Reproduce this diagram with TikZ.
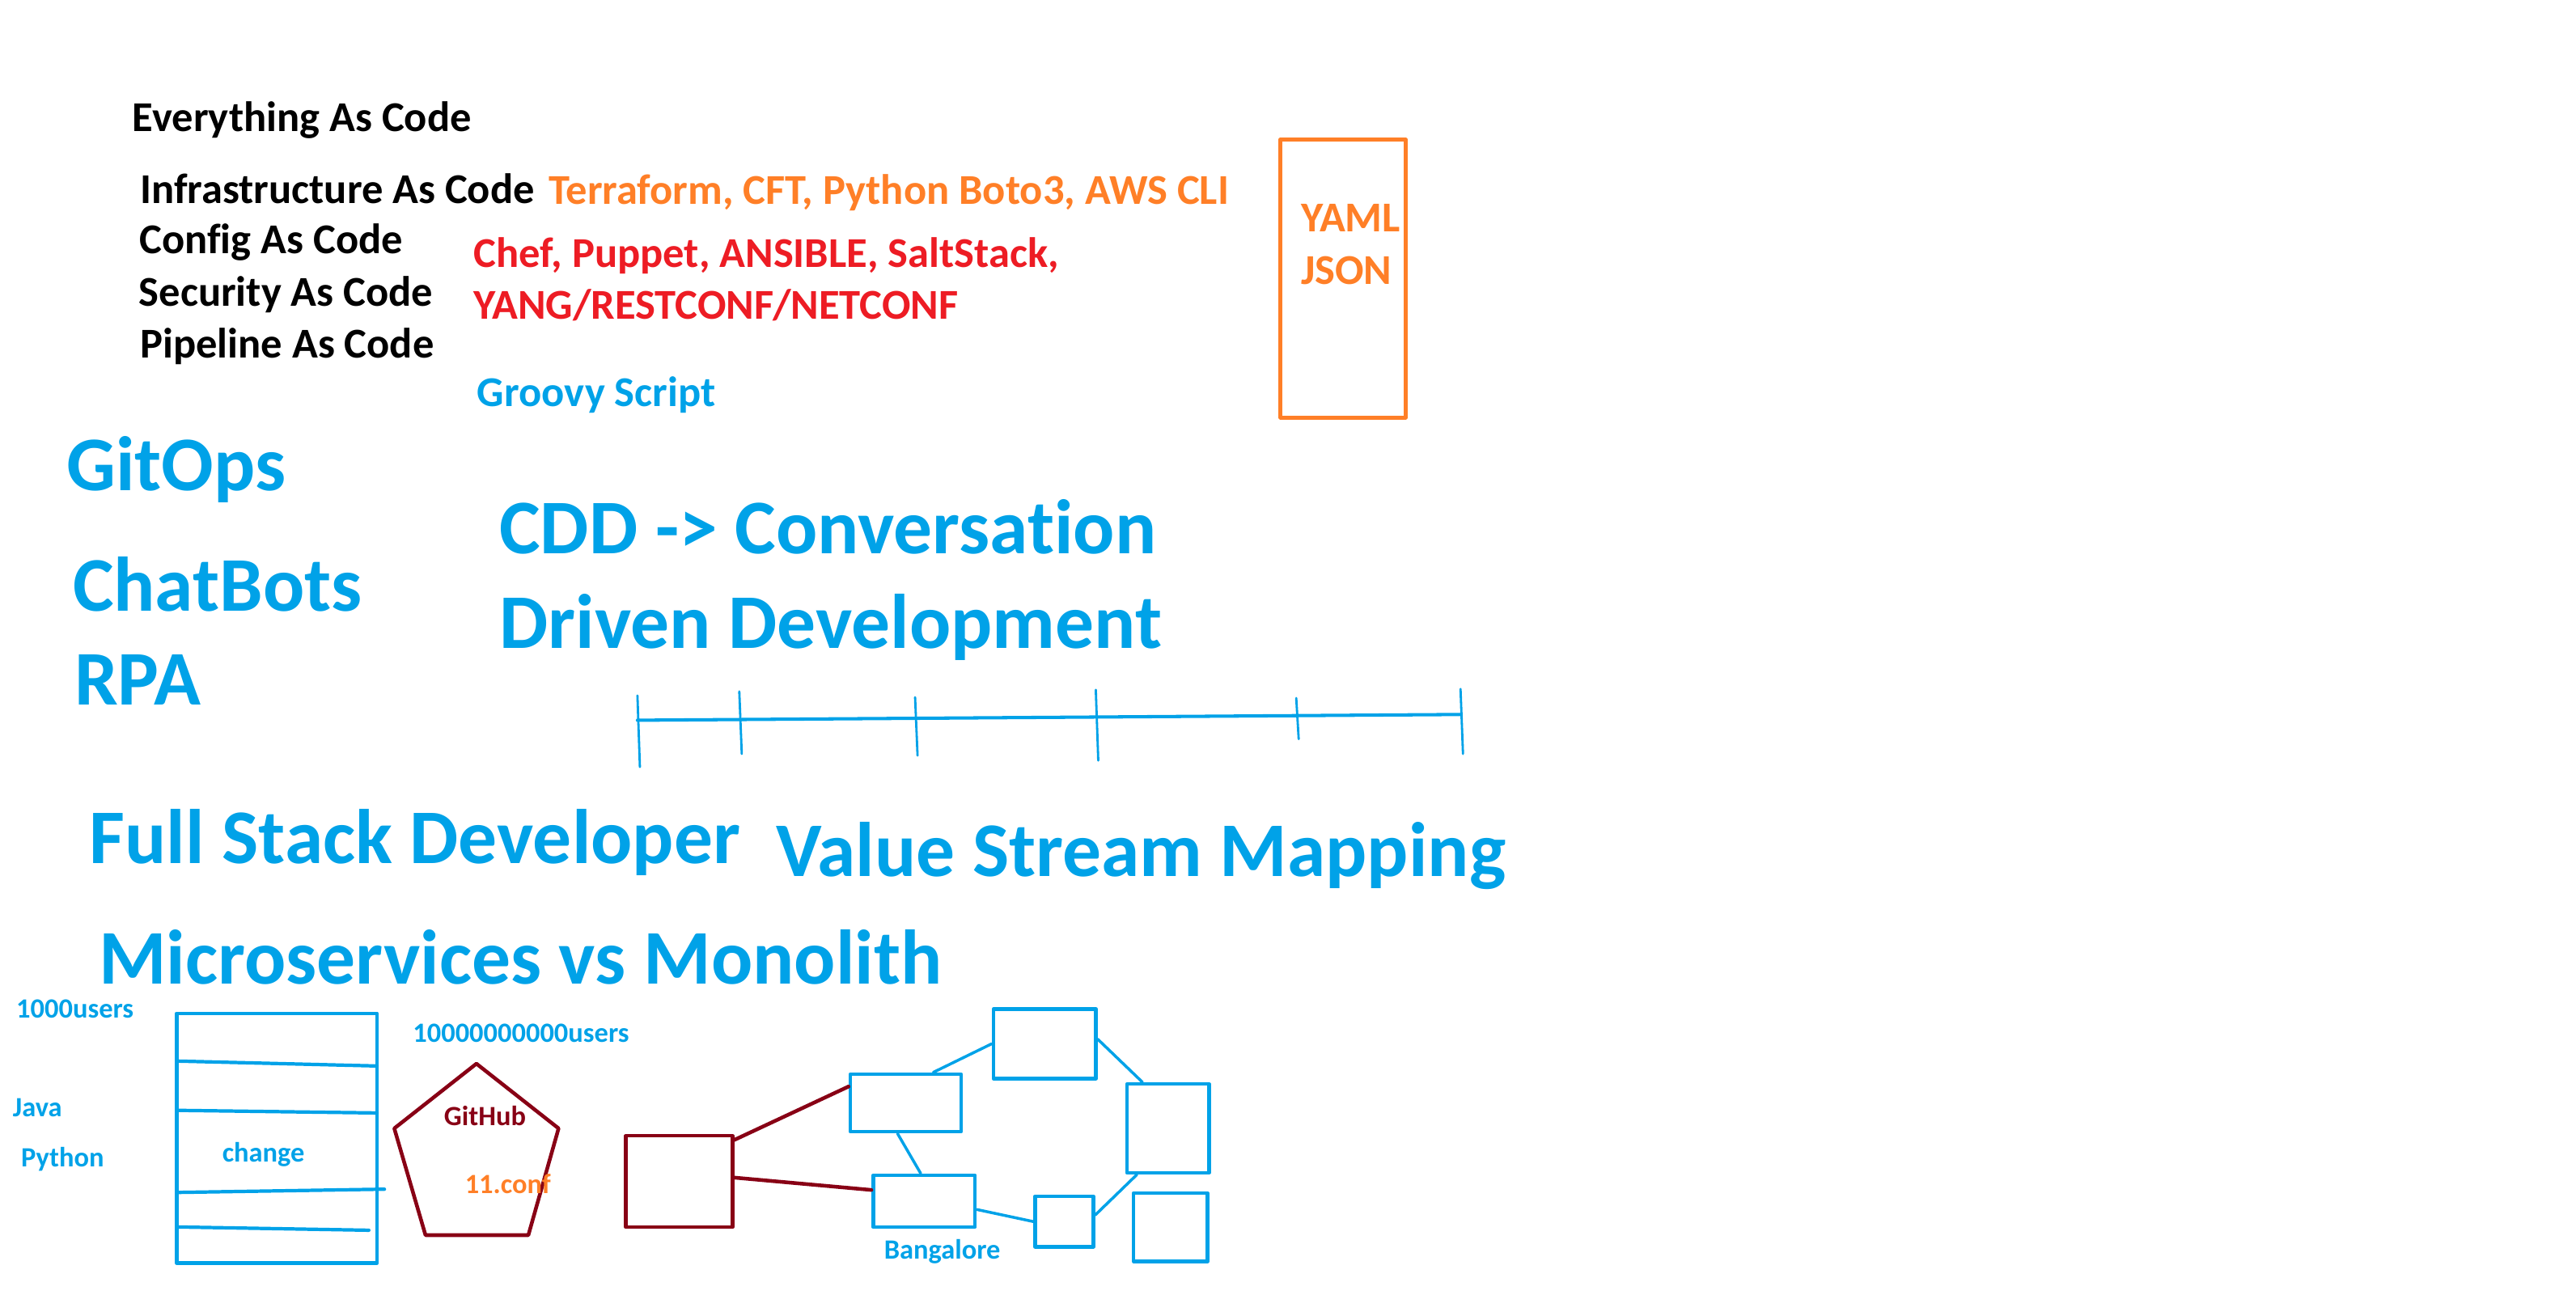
\documentclass[tikz,border=0pt]{standalone}
\usepackage{fontspec}
\setmainfont{Carlito}[Ligatures=NoCommon]
\definecolor{skyblue}{HTML}{00A2E8}
\definecolor{paintorange}{HTML}{FF7F27}
\definecolor{paintred}{HTML}{ED1C24}
\definecolor{darkred}{HTML}{880015}
\newlength\pxu
\setlength\pxu{0.020306cm}
\tikzset{
  lbl/.style={inner sep=0pt, anchor=base west, font=\bfseries\fontsize{14.95}{17}\selectfont},
  big/.style={lbl, text=skyblue, font=\bfseries\fontsize{27.2}{32}\selectfont},
  tiny/.style={lbl, text=skyblue, font=\bfseries\fontsize{9.8}{12}\selectfont},
  svc/.style={draw=skyblue, line width=1.3pt, inner sep=0pt},
  link/.style={skyblue, line width=1pt},
}
\begin{document}
\begin{tikzpicture}[x=\pxu, y=-\pxu, line cap=round, line join=round]
  \useasboundingbox (0,0) rectangle (1568,788);

  \node[lbl] (everything) at (80.4,79.9) {Everything As Code};
  \node[lbl] (infra)    at (85,124)   {Infrastructure As Code};
  \node[lbl] (config)   at (84.5,154.6) {Config As Code};
  \node[lbl] (security) at (84.3,186.3) {Security As Code};
  \node[lbl] (pipeline) at (85,218)   {Pipeline As Code};
  \node[lbl, text=paintorange] (iactools) at (333.6,124.3) {Terraform, CFT, Python Boto3, AWS CLI};
  \node[lbl, text=paintred] (cfgtools) at (288.1,162.9) {Chef, Puppet, ANSIBLE, SaltStack,};
  \node[lbl, text=paintred] (nettools) at (288,194.5) {YANG/RESTCONF/NETCONF};
  \node[lbl, text=skyblue] (groovy) at (290.2,247.6) {Groovy Script};

  \node[draw=paintorange, line width=1.4pt, inner sep=0pt, minimum width=76.2\pxu, minimum height=169.1\pxu] (fmtbox) at (817.5,169.6) {};
  \node[lbl, text=paintorange] (yaml) at (791.6,141.2) {YAML};
  \node[lbl, text=paintorange] (json) at (791.6,173.2) {JSON};

  \node[big] (gitops)   at (40.2,298.8) {GitOps};
  \node[big] (chatbots) at (44,372.3)   {ChatBots};
  \node[big] (rpa)      at (45,429.3)   {RPA};
  \node[big] (cdd)      at (303.7,337)  {CDD -> Conversation};
  \node[big] (driven)   at (303.7,394.5) {Driven Development};

  \draw[skyblue, line width=1.15pt] (388,438.5) -- (889,435);
  \foreach \tx/\ta/\tb in {388/423.5/467, 450/421/459, 557/424.5/460, 667/420/463, 789/425/450, 889/419.5/459}
    \draw[skyblue, line width=.8pt] (\tx,\ta) -- (\tx+1.5,\tb);

  \node[big] (fullstack) at (54.2,525.6) {Full Stack Developer};
  \node[big] (vsm)       at (472,533.8)  {Value Stream Mapping};
  \node[big] (micro)     at (59.9,599.2) {Microservices vs Monolith};

  \node[tiny] (fewusers)  at (9.6,619.7)  {1000users};
  \node[tiny] (manyusers) at (251,634.5)  {10000000000users};
  \node[tiny] (java)      at (7.5,679.6)  {Java};
  \node[tiny] (python)    at (12.5,710.5) {Python};

  \node[svc, minimum width=122\pxu, minimum height=152\pxu] (mono) at (168.5,693) {};
  \draw[link, line width=1.2pt] (107.5,646) -- (229.5,649);
  \draw[link, line width=1.2pt] (107.5,676) -- (229.5,677.6);
  \draw[link, line width=1.2pt] (107.5,726) -- (234,724);
  \draw[link, line width=1.2pt] (107.5,747) -- (224.5,749);
  \node[tiny] (change) at (135,707.5) {change};

  \coordinate (P1) at (290,647.6);
  \coordinate (P2) at (340,687);
  \coordinate (P3) at (321.6,752);
  \coordinate (P4) at (259,752);
  \coordinate (P5) at (240,687);
  \draw[darkred, line width=1.3pt] (P1)--(P2)--(P3)--(P4)--(P5)--cycle;
  \node[tiny, text=darkred] (github) at (270,685.4) {GitHub};
  \node[tiny, text=paintorange] (conf) at (282.7,726.4) {11.conf};

  \node[svc, draw=darkred, minimum width=64.8\pxu, minimum height=55.6\pxu] (hub) at (413.4,719.3) {};
  \node[svc, minimum width=67.4\pxu, minimum height=35\pxu]   (msa) at (551.3,671.5) {};
  \node[svc, minimum width=62.3\pxu, minimum height=42.2\pxu] (msb) at (635.9,635.5) {};
  \node[svc, minimum width=50\pxu,   minimum height=54\pxu]   (msc) at (711,687) {};
  \node[svc, minimum width=62\pxu,   minimum height=31.5\pxu] (msd) at (562.5,731.3) {};
  \node[svc, minimum width=35.6\pxu, minimum height=30.6\pxu] (mse) at (647.8,743.7) {};
  \node[svc, minimum width=45\pxu,   minimum height=41.6\pxu] (msf) at (712.5,747.2) {};

  \draw[darkred, line width=1.3pt] (hub.37) -- (msa.164);
  \draw[darkred, line width=1.3pt] (hub.4) -- (msd.168);
  \draw[link] (msa.48) -- (msb.west);
  \draw[link] (msb.5) -- (msc.119);
  \draw[link] (msa.255) -- (msd.97);
  \draw[link] (msd.351) -- (mse.west);
  \draw[link] (mse.12) -- (msc.236);
  \node[tiny] (bangalore) at (537.8,766.3) {Bangalore};
\end{tikzpicture}
\end{document}
